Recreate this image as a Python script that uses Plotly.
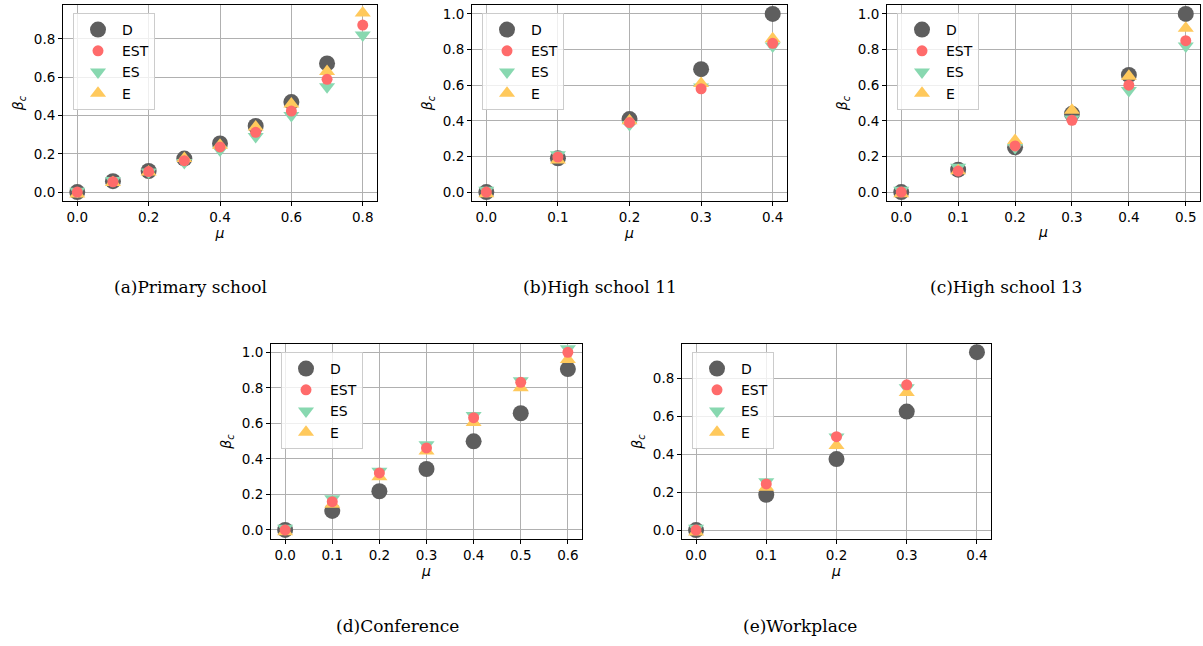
import plotly.graph_objects as go

W, H = 1203, 646

# ---------------- data ----------------
mu_a = [0.0, 0.1, 0.2, 0.3, 0.4, 0.5, 0.6, 0.7, 0.8]
D_a = [0.0, 0.057, 0.11, 0.175, 0.254, 0.345, 0.47, 0.672]
EST_a = [0.0, 0.054, 0.107, 0.164, 0.236, 0.312, 0.423, 0.589, 0.872]
ES_a = [0.005, 0.06, 0.105, 0.155, 0.22, 0.29, 0.40, 0.55, 0.82]
E_a = [-0.01, 0.05, 0.105, 0.175, 0.245, 0.34, 0.46, 0.63, 0.935]

mu_b = [0.0, 0.1, 0.2, 0.3, 0.4]
D_b = [0.0, 0.19, 0.41, 0.69, 1.0]
EST_b = [0.0, 0.197, 0.39, 0.58, 0.835]
ES_b = [0.01, 0.21, 0.38, 0.59, 0.82]
E_b = [-0.01, 0.18, 0.40, 0.61, 0.86]

mu_c = [0.0, 0.1, 0.2, 0.3, 0.4, 0.5]
D_c = [0.0, 0.126, 0.251, 0.439, 0.657, 1.0]
EST_c = [0.0, 0.118, 0.259, 0.403, 0.60, 0.85]
ES_c = [0.01, 0.14, 0.25, 0.41, 0.57, 0.82]
E_c = [-0.01, 0.12, 0.29, 0.46, 0.65, 0.92]

mu_d = [0.0, 0.1, 0.2, 0.3, 0.4, 0.5, 0.6]
D_d = [0.0, 0.107, 0.218, 0.343, 0.499, 0.657, 0.906]
EST_d = [0.0, 0.159, 0.321, 0.462, 0.632, 0.831, 1.0]
ES_d = [0.01, 0.175, 0.33, 0.48, 0.645, 0.84, 1.02]
E_d = [-0.01, 0.145, 0.30, 0.445, 0.605, 0.80, 0.96]

mu_e = [0.0, 0.1, 0.2, 0.3, 0.4]
D_e = [0.0, 0.186, 0.374, 0.624, 0.937]
EST_e = [0.0, 0.243, 0.492, 0.765]
ES_e = [0.01, 0.255, 0.49, 0.75]
E_e = [-0.01, 0.225, 0.445, 0.725]

EST_err = 0.012

captions = ["(a)Primary school", "(b)High school 11", "(c)High school 13",
            "(d)Conference", "(e)Workplace"]

# ---------------- layout geometry (pixels) ----------------
panels = [
    dict(mu=mu_a, D=D_a, EST=EST_a, ES=ES_a, E=E_a, box=(63, 377, 5, 201),
         xr=[-0.04, 0.84], yr=[-0.0465, 0.977], dx=0.2, cap=(190, 287)),
    dict(mu=mu_b, D=D_b, EST=EST_b, ES=ES_b, E=E_b, box=(472, 787, 5, 201),
         xr=[-0.02, 0.42], yr=[-0.05, 1.05], dx=0.1, cap=(600, 287)),
    dict(mu=mu_c, D=D_c, EST=EST_c, ES=ES_c, E=E_c, box=(887, 1200, 5, 201),
         xr=[-0.025, 0.525], yr=[-0.05, 1.05], dx=0.1, cap=(1006, 287)),
    dict(mu=mu_d, D=D_d, EST=EST_d, ES=ES_d, E=E_d, box=(271, 582, 344, 539),
         xr=[-0.03, 0.63], yr=[-0.051, 1.047], dx=0.1, cap=(397, 626)),
    dict(mu=mu_e, D=D_e, EST=EST_e, ES=ES_e, E=E_e, box=(682, 991, 344, 539),
         xr=[-0.02, 0.42], yr=[-0.047, 0.98], dx=0.1, cap=(800, 626)),
]

C_D = "#5e5e5e"
C_EST = "#ff6b6b"
C_ES = "#88d8b0"
C_E = "#ffc95c"
TICKFONT = dict(family="DejaVu Sans", size=13.5, color="black")
TITLEFONT = dict(family="DejaVu Sans", size=14, color="black")

fig = go.Figure()
layout = dict(width=W, height=H, margin=dict(l=0, r=0, t=0, b=0),
              paper_bgcolor="white", plot_bgcolor="white", showlegend=True)
annotations = []

for i, p in enumerate(panels):
    n = "" if i == 0 else str(i + 1)
    xa, ya = "x" + n, "y" + n
    lg = "legend" + n
    x0, x1, y0, y1 = p["box"]
    mu = p["mu"]
    fig.add_trace(go.Scatter(x=mu[:len(p["D"])], y=p["D"], mode="markers", name="D",
                             marker=dict(color=C_D, size=16, symbol="circle"),
                             xaxis=xa, yaxis=ya, legend=lg, legendrank=1))
    fig.add_trace(go.Scatter(x=mu[:len(p["ES"])], y=p["ES"], mode="markers", name="ES",
                             marker=dict(color=C_ES, size=14, symbol="triangle-down"),
                             xaxis=xa, yaxis=ya, legend=lg, legendrank=3))
    fig.add_trace(go.Scatter(x=mu[:len(p["E"])], y=p["E"], mode="markers", name="E",
                             marker=dict(color=C_E, size=14, symbol="triangle-up"),
                             xaxis=xa, yaxis=ya, legend=lg, legendrank=4))
    fig.add_trace(go.Scatter(x=mu[:len(p["EST"])], y=p["EST"], mode="markers", name="EST",
                             marker=dict(color=C_EST, size=11, symbol="circle"),
                             error_y=dict(type="constant", value=EST_err, color=C_EST,
                                          thickness=1.5, width=0),
                             xaxis=xa, yaxis=ya, legend=lg, legendrank=2))

    common = dict(showline=True, linecolor="black", linewidth=1, mirror=True,
                  ticks="outside", ticklen=4, tickcolor="black", tickwidth=1,
                  showgrid=True, gridcolor="#b0b0b0", gridwidth=0.8,
                  zeroline=False, tickfont=TICKFONT, tickformat=".1f")
    layout["xaxis" + n] = dict(common, domain=[x0 / W, x1 / W], range=p["xr"],
                               dtick=p["dx"], tick0=0, anchor=ya,
                               title=dict(text="<i>μ</i>", standoff=2, font=TITLEFONT))
    layout["yaxis" + n] = dict(common, domain=[1 - y1 / H, 1 - y0 / H], range=p["yr"],
                               dtick=0.2, tick0=0, anchor=xa,
                               title=dict(text="<i>β</i><sub><i>c</i></sub>", standoff=6,
                                          font=TITLEFONT))
    layout[lg] = dict(x=(x0 + 10) / W, y=1 - (y0 + 8) / H, xanchor="left", yanchor="top",
                      bgcolor="rgba(255,255,255,0.8)", bordercolor="#cccccc", borderwidth=1,
                      font=dict(family="DejaVu Sans", size=14, color="black"),
                      tracegroupgap=0, itemwidth=38)
    annotations.append(dict(text=captions[i], x=p["cap"][0] / W, y=1 - p["cap"][1] / H,
                            xref="paper", yref="paper", showarrow=False,
                            xanchor="center", yanchor="middle",
                            font=dict(family="DejaVu Serif", size=17, color="black")))

layout["annotations"] = annotations
fig.update_layout(**layout)
fig.write_html("out.html", config={"displayModeBar": False},
               post_script="document.body.style.margin='0';document.body.style.padding='0';")
